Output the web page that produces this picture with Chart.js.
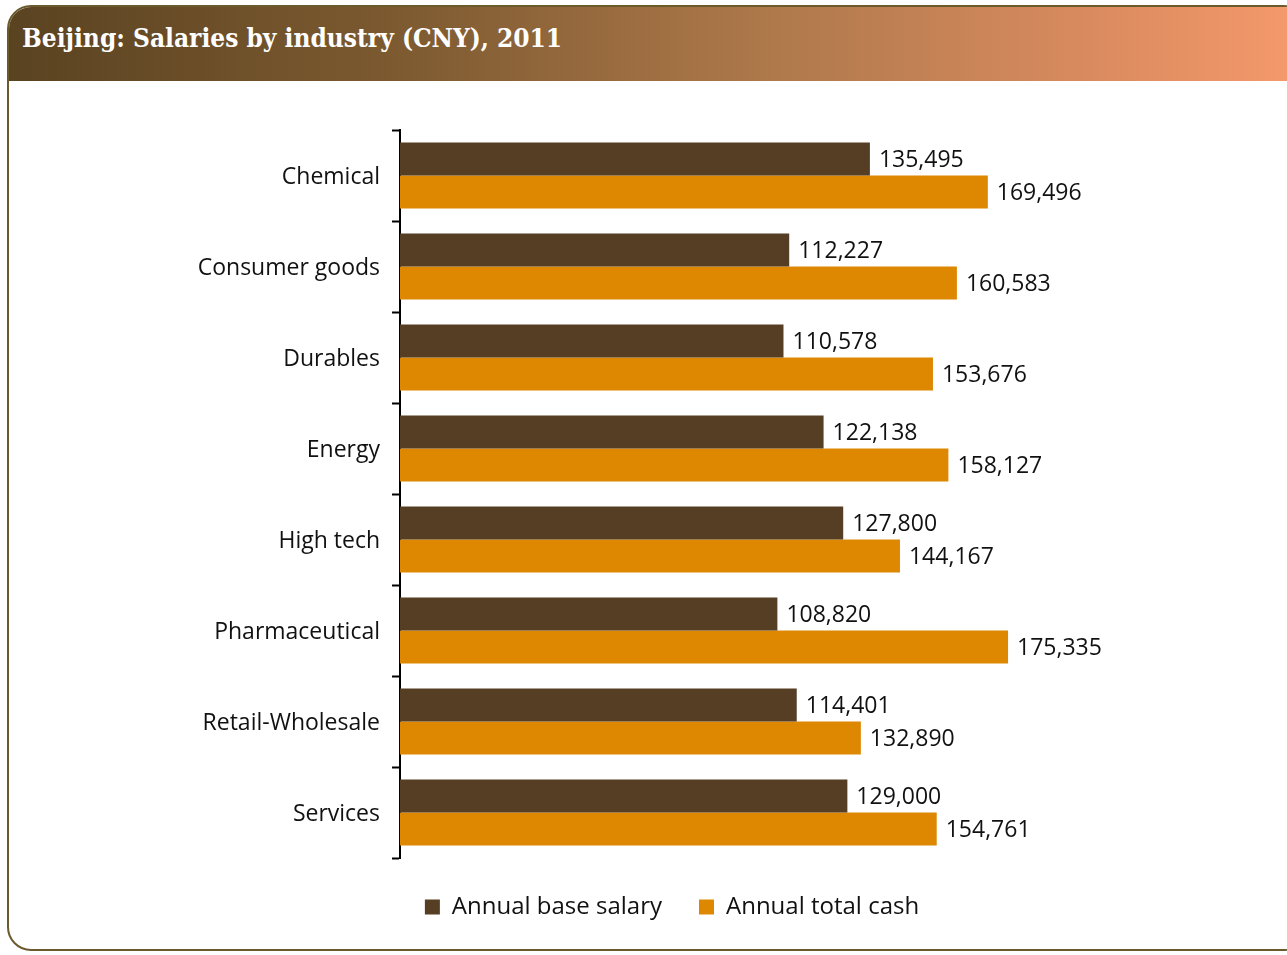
<!DOCTYPE html>
<html>
<head>
<meta charset="utf-8">
<script src="https://cdn.jsdelivr.net/npm/chart.js@4.4.1/dist/chart.umd.min.js"></script>
<style>
    body { margin: 0; background: #fff; width: 1287px; height: 955px; overflow: hidden; position: relative; }
    .card {
        position: absolute; left: 7px; top: 5px; width: 1300px; height: 946px;
        border: 2px solid #6a5a2c; border-radius: 24px; overflow: hidden; box-sizing: border-box;
    }
    .header {
        height: 74px;
        background: linear-gradient(to right, #5a4321 0%, #7d5a30 30%, #b07a4c 60%, #dc8c60 85%, #f69a6c 100%);
    }
    .header h1 {
        margin: 0; padding: 16px 0 0 13px;
        font-family: 'DejaVu Serif Condensed', 'DejaVu Serif', serif; font-stretch: condensed;
        font-weight: bold; font-size: 26px; color: #fff;
    }
    #wrap { position: absolute; left: 0; top: 80px; width: 1287px; height: 870px; }
</style>
</head>
<body>
<div class="card">
    <div class="header"><h1>Beijing: Salaries by industry (CNY), 2011</h1></div>
</div>
<div id="wrap"><canvas id="salaryChart"></canvas></div>
<script>
const industries = ['Chemical', 'Consumer goods', 'Durables', 'Energy', 'High tech', 'Pharmaceutical', 'Retail-Wholesale', 'Services'];
const baseSalary = [135495, 112227, 110578, 122138, 127800, 108820, 114401, 129000];
const totalCash = [169496, 160583, 153676, 158127, 144167, 175335, 132890, 154761];

Chart.defaults.font.family = "'Open Sans', sans-serif";
Chart.defaults.color = '#111';

// draws the value next to the end of every bar
const valueLabels = {
    id: 'valueLabels',
    afterDatasetsDraw(chart) {
        const ctx = chart.ctx;
        ctx.save();
        ctx.font = "23px 'Open Sans', sans-serif";
        ctx.fillStyle = '#111';
        ctx.textAlign = 'left';
        ctx.textBaseline = 'middle';
        chart.data.datasets.forEach((ds, i) => {
            chart.getDatasetMeta(i).data.forEach((bar, j) => {
                ctx.fillText(ds.data[j].toLocaleString('en-US'), bar.x + 9, bar.y + 1);
            });
        });
        ctx.restore();
    }
};

new Chart(document.getElementById('salaryChart'), {
    type: 'bar',
    data: {
        labels: industries,
        datasets: [
            {
                label: 'Annual base salary',
                data: baseSalary,
                backgroundColor: '#553e23',
                categoryPercentage: 0.725,
                barPercentage: 1
            },
            {
                label: 'Annual total cash',
                data: totalCash,
                backgroundColor: '#dd8800',
                categoryPercentage: 0.725,
                barPercentage: 1
            }
        ]
    },
    options: {
        indexAxis: 'y',
        responsive: true,
        maintainAspectRatio: false,
        animation: false,
        layout: {
            padding: { top: 50, left: 77, right: 20, bottom: 21 }
        },
        scales: {
            x: {
                display: false,
                min: 0,
                max: 250000
            },
            y: {
                afterFit(scale) { scale.width = 323; },
                border: { color: '#000', width: 2 },
                grid: {
                    drawOnChartArea: false,
                    tickLength: 8,
                    tickWidth: 2,
                    color: '#000'
                },
                ticks: {
                    font: { size: 23 },
                    color: '#111',
                    padding: 12,
                    labelOffset: 2
                }
            }
        },
        plugins: {
            legend: {
                position: 'bottom',
                labels: {
                    boxWidth: 15,
                    boxHeight: 15,
                    padding: 37,
                    font: { size: 24 },
                    color: '#111'
                }
            },
            tooltip: { enabled: false }
        }
    },
    plugins: [valueLabels]
});
</script>
</body>
</html>
